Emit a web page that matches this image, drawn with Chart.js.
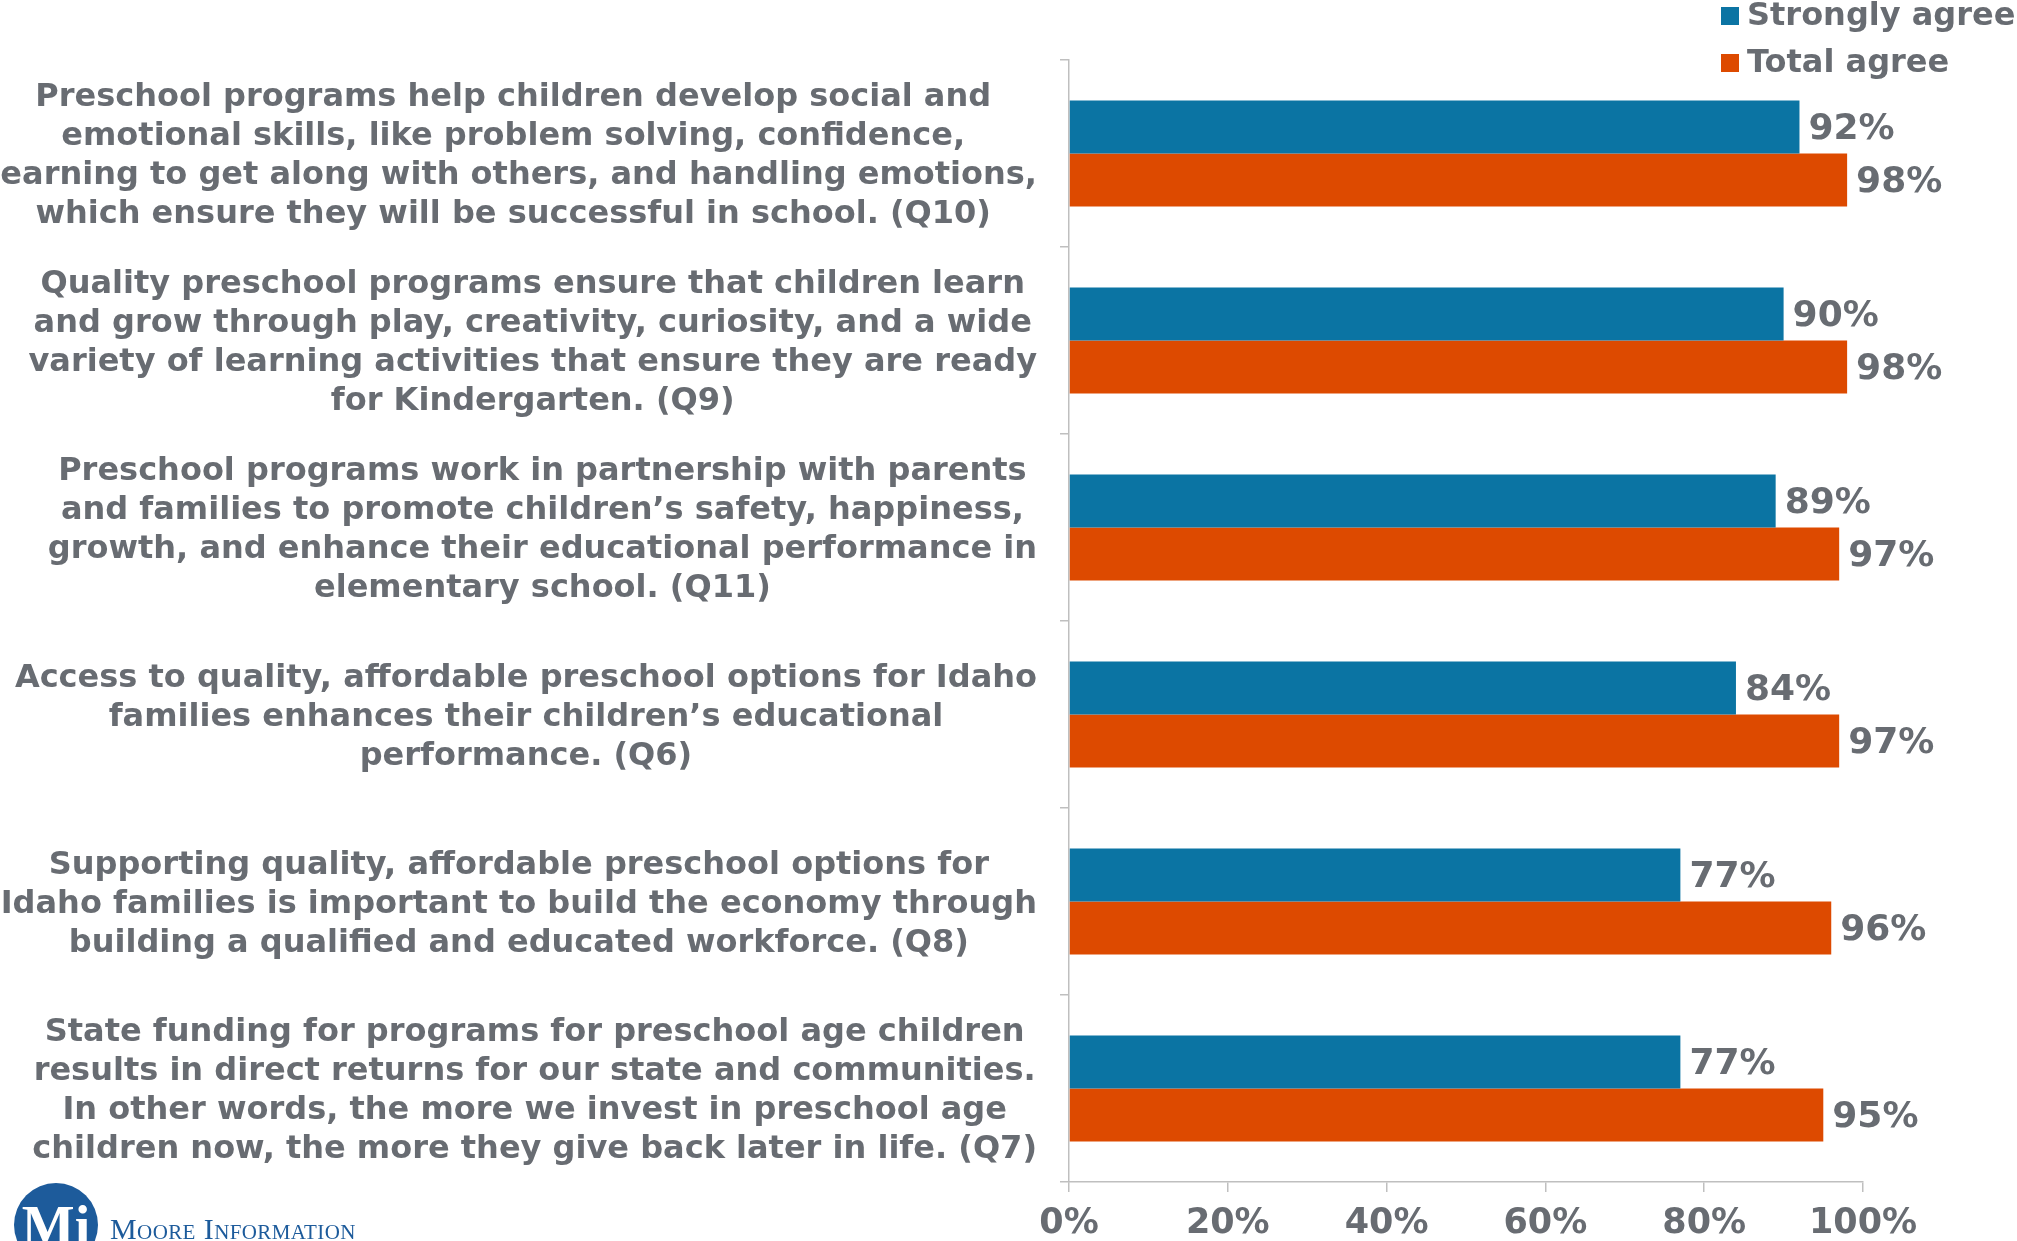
<!DOCTYPE html>
<html>
<head>
<meta charset="utf-8">
<script src="https://cdn.jsdelivr.net/npm/chart.js@4/dist/chart.umd.min.js"></script>
<style>
html,body{margin:0;padding:0;background:#fff;overflow:hidden;}
#wrap{position:relative;width:2017px;height:1241px;}
#c{position:absolute;left:0;top:0;}
#logoCircle{position:absolute;left:14px;top:1183px;width:84px;height:84px;border-radius:50%;background:#1D5B9B;overflow:hidden;}
#logoMi{position:absolute;left:14px;top:1198px;width:84px;text-align:center;font-family:"Liberation Serif",serif;font-weight:bold;font-size:56px;line-height:56px;color:#fff;}
#logoText{position:absolute;left:110px;top:1212px;font-family:"Liberation Serif",serif;font-variant:small-caps;font-size:30px;line-height:34px;color:#1D5B9B;letter-spacing:0.4px;}
</style>
</head>
<body>
<div id="wrap">
<canvas id="c" width="2017" height="1241"></canvas>
<div id="logoCircle"></div>
<div id="logoMi">Mi</div>
<div id="logoText">Moore Information</div>
</div>
<script>
const categories = [
  ["Preschool programs help children develop social and","emotional skills, like problem solving, confidence,","learning to get along with others, and handling emotions,","which ensure they will be successful in school. (Q10)"],
  ["Quality preschool programs ensure that children learn","and grow through play, creativity, curiosity, and a wide","variety of learning activities that ensure they are ready","for Kindergarten. (Q9)"],
  ["Preschool programs work in partnership with parents","and families to promote children\u2019s safety, happiness,","growth, and enhance their educational performance in","elementary school. (Q11)"],
  ["Access to quality, affordable preschool options for Idaho","families enhances their children\u2019s educational","performance. (Q6)"],
  ["Supporting quality, affordable preschool options for","Idaho families is important to build the economy through","building a qualified and educated workforce. (Q8)"],
  ["State funding for programs for preschool age children","results in direct returns for our state and communities.","In other words, the more we invest in preschool age","children now, the more they give back later in life. (Q7)"]
];
const seriesNames = ["Strongly agree", "Total agree"];
const stronglyAgree = [92, 90, 89, 84, 77, 77];
const totalAgree = [98, 98, 97, 97, 96, 95];
const xTickValues = [0, 20, 40, 60, 80, 100];

const BLUE = '#0B74A3';
const ORANGE = '#DD4A00';
const TEXT = '#686C72';
const AXIS = '#BFBFBF';
const FONT = '"DejaVu Sans", Verdana, sans-serif';

const labelPlugin = {
  id: 'customLabels',
  afterDraw(chart) {
    const ctx = chart.ctx;
    const y = chart.scales.y;
    ctx.save();
    ctx.fillStyle = TEXT;
    // category labels, each block right-aligned, lines centered within the block
    ctx.font = 'bold 32px ' + FONT;
    ctx.textAlign = 'center';
    ctx.textBaseline = 'middle';
    const lh = 39;
    categories.forEach((lines, i) => {
      const cy = y.getPixelForValue(i) + 3;
      const w = Math.max(...lines.map(l => ctx.measureText(l).width));
      const cx = y.right - 32 - w / 2;
      const y0 = cy - (lines.length - 1) * lh / 2;
      lines.forEach((l, j) => ctx.fillText(l, cx, y0 + j * lh));
    });
    // value labels
    ctx.font = 'bold 36px ' + FONT;
    ctx.textAlign = 'left';
    chart.data.datasets.forEach((ds, di) => {
      const meta = chart.getDatasetMeta(di);
      meta.data.forEach((el, i) => {
        ctx.fillText(ds.data[i] + '%', el.x + 9, el.y + 3);
      });
    });
    // legend
    ctx.font = 'bold 32px ' + FONT;
    const ly = [16, 63];
    chart.data.datasets.forEach((ds, di) => {
      ctx.fillStyle = ds.backgroundColor;
      ctx.fillRect(1721, ly[di] - 9, 18, 18);
      ctx.fillStyle = TEXT;
      ctx.fillText(ds.label, 1747, ly[di] + 1);
    });
    ctx.restore();
  }
};

new Chart(document.getElementById('c'), {
  type: 'bar',
  data: {
    labels: categories,
    datasets: [
      { label: seriesNames[0], data: stronglyAgree, backgroundColor: BLUE },
      { label: seriesNames[1], data: totalAgree, backgroundColor: ORANGE }
    ]
  },
  options: {
    indexAxis: 'y',
    responsive: false,
    animation: false,
    devicePixelRatio: 1,
    layout: { padding: { top: 60, right: 154, bottom: 0, left: 0 } },
    datasets: { bar: { categoryPercentage: 0.567, barPercentage: 1 } },
    plugins: { legend: { display: false }, tooltip: { enabled: false } },
    scales: {
      y: {
        type: 'category',
        grid: { offset: true, drawOnChartArea: false, color: AXIS, tickLength: 9, lineWidth: 1.5 },
        border: { color: AXIS, width: 1.5 },
        ticks: { display: false },
        afterFit(s) { s.width = 1069; }
      },
      x: {
        min: 0, max: 100,
        afterBuildTicks(s) { s.ticks = xTickValues.map(v => ({ value: v })); },
        ticks: {
          callback: v => v + '%',
          color: TEXT,
          font: { family: FONT, size: 35, weight: 'bold' },
          padding: 11,
          maxRotation: 0
        },
        grid: { drawOnChartArea: false, color: AXIS, tickLength: 10, lineWidth: 1.5 },
        border: { color: AXIS, width: 1.5 },
        afterFit(s) { s.height = 59; }
      }
    }
  },
  plugins: [labelPlugin]
});
</script>
</body>
</html>
